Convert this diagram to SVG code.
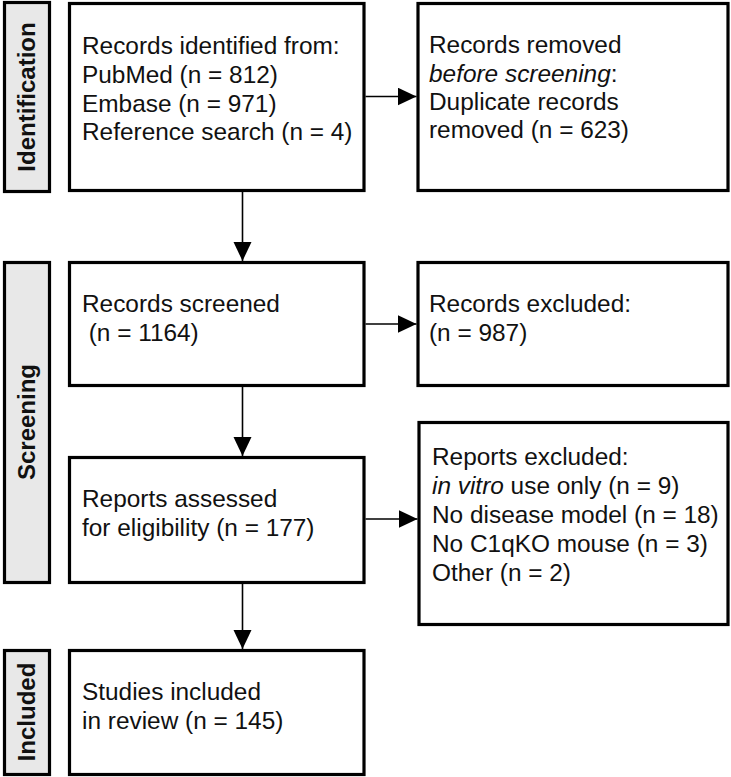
<svg xmlns="http://www.w3.org/2000/svg" width="731" height="777" viewBox="0 0 731 777">
<defs>
<style>
.box{fill:#fff;stroke:#000;stroke-width:3.2}
.side{fill:#e8e8e8;stroke:#000;stroke-width:3.2}
.t{font-family:"Liberation Sans",Arial,Helvetica,sans-serif;font-size:24.4px;fill:#111}
.lab{font-family:"Liberation Sans",Arial,Helvetica,sans-serif;font-size:24px;font-weight:bold;fill:#111;text-anchor:middle}
.c{fill:none;stroke:#000;stroke-width:1.6}
</style>
<marker id="ah" markerUnits="userSpaceOnUse" markerWidth="20" markerHeight="19" refX="19" refY="9" orient="auto">
<path d="M0,0 L19,9 L0,18 z" fill="#000"/>
</marker>
</defs>
<rect width="731" height="777" fill="#fff"/>

<g id="phase-identification">
<rect class="side" x="4.5" y="2.5" width="45" height="189"/>
<text class="lab" transform="translate(35,97) rotate(-90)">Identification</text>
</g>
<g id="phase-screening">
<rect class="side" x="4.5" y="262.5" width="45" height="320"/>
<text class="lab" transform="translate(35,422) rotate(-90)">Screening</text>
</g>
<g id="phase-included">
<rect class="side" x="4.5" y="650.5" width="45" height="124"/>
<text class="lab" transform="translate(35,712) rotate(-90)">Included</text>
</g>

<g id="identified">
<rect class="box" x="69.5" y="3.5" width="294.5" height="187"/>
<text class="t" x="82" y="54">Records identified from:</text>
<text class="t" x="82" y="83">PubMed (n = 812)</text>
<text class="t" x="82" y="111.5">Embase (n = 971)</text>
<text class="t" x="82" y="140">Reference search (n = 4)</text>
</g>
<g id="removed">
<rect class="box" x="418" y="3.5" width="310" height="187"/>
<text class="t" x="429" y="53">Records removed</text>
<text class="t" x="429" y="82"><tspan font-style="italic">before screening</tspan>:</text>
<text class="t" x="429" y="110">Duplicate records</text>
<text class="t" x="429" y="138">removed (n = 623)</text>
</g>
<g id="screened">
<rect class="box" x="69.5" y="262.5" width="294.5" height="123"/>
<text class="t" x="82" y="312">Records screened</text>
<text class="t" x="88.7" y="341">(n = 1164)</text>
</g>
<g id="excluded">
<rect class="box" x="418" y="262.5" width="310" height="123"/>
<text class="t" x="429" y="312">Records excluded:</text>
<text class="t" x="429" y="341">(n = 987)</text>
</g>
<g id="assessed">
<rect class="box" x="69.5" y="457.5" width="294.5" height="125"/>
<text class="t" x="82" y="507">Reports assessed</text>
<text class="t" x="82" y="536">for eligibility (n = 177)</text>
</g>
<g id="reports-excluded">
<rect class="box" x="419" y="422.5" width="309" height="202"/>
<text class="t" x="432" y="465">Reports excluded:</text>
<text class="t" x="432" y="494"><tspan font-style="italic">in vitro</tspan> use only (n = 9)</text>
<text class="t" x="432" y="523">No disease model (n = 18)</text>
<text class="t" x="432" y="552">No C1qKO mouse (n = 3)</text>
<text class="t" x="432" y="581">Other (n = 2)</text>
</g>
<g id="included">
<rect class="box" x="69.5" y="650.5" width="294.5" height="124"/>
<text class="t" x="82" y="700">Studies included</text>
<text class="t" x="82" y="729">in review (n = 145)</text>
</g>

<g id="connectors">
<line class="c" x1="365.5" y1="96.5" x2="416.5" y2="96.5" marker-end="url(#ah)"/>
<line class="c" x1="242.5" y1="192" x2="242.5" y2="261" marker-end="url(#ah)"/>
<line class="c" x1="365.5" y1="324" x2="416.5" y2="324" marker-end="url(#ah)"/>
<line class="c" x1="242.5" y1="387" x2="242.5" y2="456" marker-end="url(#ah)"/>
<line class="c" x1="365.5" y1="519" x2="417.5" y2="519" marker-end="url(#ah)"/>
<line class="c" x1="242.5" y1="584" x2="242.5" y2="649" marker-end="url(#ah)"/>
</g>
</svg>
